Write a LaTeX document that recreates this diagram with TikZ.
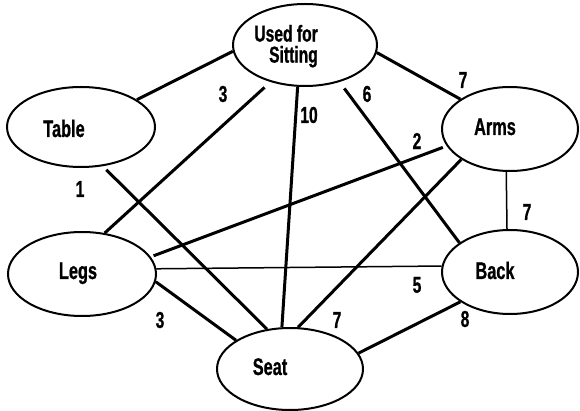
\documentclass[tikz,border=0pt]{standalone}
\usepackage{fontspec}
\setmainfont{Liberation Sans}[FakeStretch=0.68, BoldFeatures={FakeBold=0.8}]
\usetikzlibrary{shapes.geometric}
\tikzset{
  concept/.style={ellipse, draw, line width=2pt, inner sep=0pt},
  word/.style={font=\bfseries\fontsize{24}{24}\selectfont, inner sep=0pt, anchor=base},
  num/.style={font=\bfseries\fontsize{23}{23}\selectfont, inner sep=0pt},
  heavy/.style={line width=3pt},
  light/.style={line width=1.5pt},
}
\begin{document}
\begin{tikzpicture}[x=1pt,y=-1pt]
\useasboundingbox (0,0) rectangle (580,411);
% concept ellipses
\node[concept, minimum width=144pt, minimum height=82pt] (used)  at (305,45)  {};
\node[concept, minimum width=148pt, minimum height=80pt] (table) at (81,127)  {};
\node[concept, minimum width=136pt, minimum height=84pt] (arms)  at (510,129) {};
\node[concept, minimum width=148pt, minimum height=84pt] (legs)  at (82,274)  {};
\node[concept, minimum width=136pt, minimum height=84pt] (back)  at (510,272) {};
\node[concept, minimum width=146pt, minimum height=82pt] (seat)  at (290,369) {};
% node texts
\node[word, font=\bfseries\fontsize{23}{21}\selectfont, align=right, anchor=east] (tused) at (318,46.2) {Used for\\Sitting};
\node[word] (ttable) at (64,137)  {Table};
\node[word] (tarms)  at (495,135) {Arms};
\node[word] (tlegs)  at (78,279)  {Legs};
\node[word] (tback)  at (495,279) {Back};
\node[word] (tseat)  at (270,375) {Seat};
% connectors
\draw[heavy] (used.185.6) -- (table.26.2);
\draw[heavy, shorten <=8pt] (used.227.8) -- (legs.61.3);
\draw[heavy] (used.260.5) -- (seat.101);
\draw[heavy, shorten <=8pt] (used.313.6) -- (back.150.8);
\draw[heavy] (used.354.5) -- (arms.149.9);
\draw[heavy, shorten <=5pt] (table.299.2) -- (seat.120.5);
\draw[heavy, shorten <=4pt, shorten >=3pt] (arms.195.8) -- (legs.14.2);
\draw[heavy] (arms.212.1) -- (seat.79);
\draw[light] (arms.265.9) -- (back.94.1);
\draw[light] (legs.4.6) -- (back.175.8);
\draw[heavy] (legs.354.5) -- (seat.152.2);
\draw[heavy] (back.211.8) -- (seat.13.1);
% weights
\node[num] (n1)  at (223,94)  {3};
\node[num] (n2)  at (309,115) {10};
\node[num] (n3)  at (367,94)  {6};
\node[num] (n4)  at (463,80)  {7};
\node[num] (n5)  at (417,141) {2};
\node[num] (n6)  at (80,189)  {1};
\node[num] (n7)  at (527,212) {7};
\node[num] (n8)  at (417,285) {5};
\node[num] (n9)  at (160,320) {3};
\node[num] (n10) at (337,320) {7};
\node[num] (n11) at (465,319) {8};
\end{tikzpicture}
\end{document}
